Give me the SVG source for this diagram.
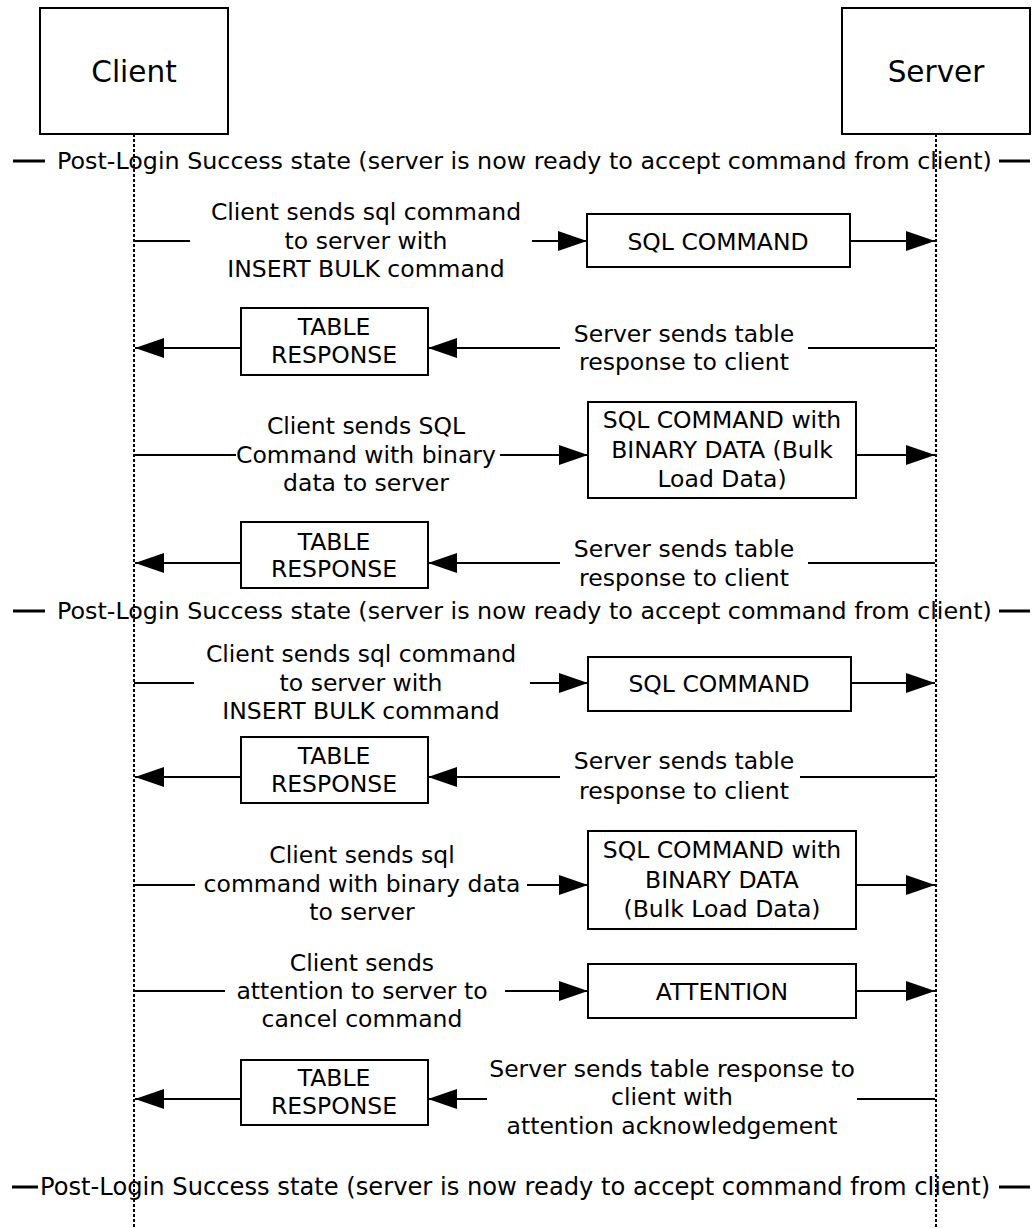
<svg xmlns="http://www.w3.org/2000/svg" width="1032" height="1228" viewBox="0 0 1032 1228">
<style>
text{font-family:"DejaVu Sans",Verdana,sans-serif;font-size:23.5px;fill:#000;text-anchor:middle}
.big{font-size:29.5px}
.st{text-anchor:start;font-size:23.8px}
.st3{font-size:24.2px}
.box{fill:#fff;stroke:#000;stroke-width:2}
.ll{stroke:#000;stroke-width:2;stroke-dasharray:3 2;fill:none}
.ln{stroke:#000;stroke-width:1.8;fill:none}
.arr{marker-end:url(#ah)}
.dash{stroke:#000;stroke-width:3}
</style>
<defs>
<marker id="ah" viewBox="0 0 29 20" refX="29" refY="10" markerWidth="29" markerHeight="20" markerUnits="userSpaceOnUse" orient="auto">
<path d="M0,0 L29,10 L0,20 z" fill="#000"/>
</marker>
</defs>
<rect width="1032" height="1228" fill="#fff"/>
<g id="lifelines">
<line class="ll" x1="134" y1="134" x2="134" y2="1228"/>
<line class="ll" x1="936" y1="134" x2="936" y2="1228"/>
</g>
<g id="client"><rect class="box" x="40" y="8" width="188" height="126"/><text class="big" x="134" y="82">Client</text></g>
<g id="server"><rect class="box" x="842" y="8" width="188" height="126"/><text class="big" x="936" y="82">Server</text></g>
<g id="states">
<line class="dash" x1="13" y1="161" x2="45" y2="161"/><text class="st" x="57" y="169">Post-Login Success state (server is now ready to accept command from client)</text><line class="dash" x1="999" y1="161" x2="1030" y2="161"/>
<line class="dash" x1="13" y1="611" x2="45" y2="611"/><text class="st" x="57" y="619">Post-Login Success state (server is now ready to accept command from client)</text><line class="dash" x1="999" y1="611" x2="1030" y2="611"/>
<line class="dash" x1="12" y1="1187" x2="38" y2="1187"/><text class="st st3" x="40" y="1195">Post-Login Success state (server is now ready to accept command from client)</text><line class="dash" x1="999" y1="1187" x2="1030" y2="1187"/>
</g>
<g id="connectors">
<line class="ln" x1="134" y1="241" x2="190" y2="241"/><line class="ln arr" x1="532" y1="241" x2="587" y2="241"/><line class="ln arr" x1="850" y1="241" x2="935" y2="241"/>
<line class="ln" x1="935" y1="348" x2="808" y2="348"/><line class="ln arr" x1="560" y1="348" x2="428" y2="348"/><line class="ln arr" x1="241" y1="348" x2="135" y2="348"/>
<line class="ln" x1="134" y1="455" x2="236" y2="455"/><line class="ln arr" x1="500" y1="455" x2="588" y2="455"/><line class="ln arr" x1="856" y1="455" x2="935" y2="455"/>
<line class="ln" x1="935" y1="563" x2="808" y2="563"/><line class="ln arr" x1="560" y1="563" x2="428" y2="563"/><line class="ln arr" x1="241" y1="563" x2="135" y2="563"/>
<line class="ln" x1="134" y1="683" x2="194" y2="683"/><line class="ln arr" x1="530" y1="683" x2="588" y2="683"/><line class="ln arr" x1="851" y1="683" x2="935" y2="683"/>
<line class="ln" x1="935" y1="777" x2="800" y2="777"/><line class="ln arr" x1="560" y1="777" x2="428" y2="777"/><line class="ln arr" x1="241" y1="777" x2="135" y2="777"/>
<line class="ln" x1="134" y1="885" x2="195" y2="885"/><line class="ln arr" x1="527" y1="885" x2="588" y2="885"/><line class="ln arr" x1="856" y1="885" x2="935" y2="885"/>
<line class="ln" x1="134" y1="991" x2="225" y2="991"/><line class="ln arr" x1="505" y1="991" x2="588" y2="991"/><line class="ln arr" x1="856" y1="991" x2="935" y2="991"/>
<line class="ln" x1="935" y1="1099" x2="857" y2="1099"/><line class="ln arr" x1="487" y1="1099" x2="428" y2="1099"/><line class="ln arr" x1="241" y1="1099" x2="135" y2="1099"/>
</g>
<g id="labels">
<text x="366" y="220">Client sends sql command</text><text x="366" y="249">to server with</text><text x="366" y="277">INSERT BULK command</text>
<text x="684" y="342">Server sends table</text><text x="684" y="370">response to client</text>
<text x="366" y="434">Client sends SQL</text><text x="366" y="463">Command with binary</text><text x="366" y="491">data to server</text>
<text x="684" y="557">Server sends table</text><text x="684" y="586">response to client</text>
<text x="361" y="662">Client sends sql command</text><text x="361" y="691">to server with</text><text x="361" y="719">INSERT BULK command</text>
<text x="684" y="769">Server sends table</text><text x="684" y="799">response to client</text>
<text x="362" y="863">Client sends sql</text><text x="362" y="892">command with binary data</text><text x="362" y="920">to server</text>
<text x="362" y="971">Client sends</text><text x="362" y="999">attention to server to</text><text x="362" y="1027">cancel command</text>
<text x="672" y="1077">Server sends table response to</text><text x="672" y="1105">client with</text><text x="672" y="1134">attention acknowledgement</text>
</g>
<g id="msg1"><rect class="box" x="587" y="214" width="263" height="53"/><text x="718" y="250">SQL COMMAND</text></g>
<g id="msg2"><rect class="box" x="241" y="308" width="187" height="67"/><text x="334" y="335">TABLE</text><text x="334" y="363">RESPONSE</text></g>
<g id="msg3"><rect class="box" x="588" y="402" width="268" height="96"/><text x="722" y="428">SQL COMMAND with</text><text x="722" y="458">BINARY DATA (Bulk</text><text x="722" y="487">Load Data)</text></g>
<g id="msg4"><rect class="box" x="241" y="522" width="187" height="66"/><text x="334" y="550">TABLE</text><text x="334" y="577">RESPONSE</text></g>
<g id="msg5"><rect class="box" x="588" y="657" width="263" height="54"/><text x="719" y="692">SQL COMMAND</text></g>
<g id="msg6"><rect class="box" x="241" y="737" width="187" height="66"/><text x="334" y="764">TABLE</text><text x="334" y="792">RESPONSE</text></g>
<g id="msg7"><rect class="box" x="588" y="831" width="268" height="98"/><text x="722" y="858">SQL COMMAND with</text><text x="722" y="888">BINARY DATA</text><text x="722" y="917">(Bulk Load Data)</text></g>
<g id="msg8"><rect class="box" x="588" y="964" width="268" height="54"/><text x="722" y="1000">ATTENTION</text></g>
<g id="msg9"><rect class="box" x="241" y="1060" width="187" height="65"/><text x="334" y="1086">TABLE</text><text x="334" y="1114">RESPONSE</text></g>
</svg>
